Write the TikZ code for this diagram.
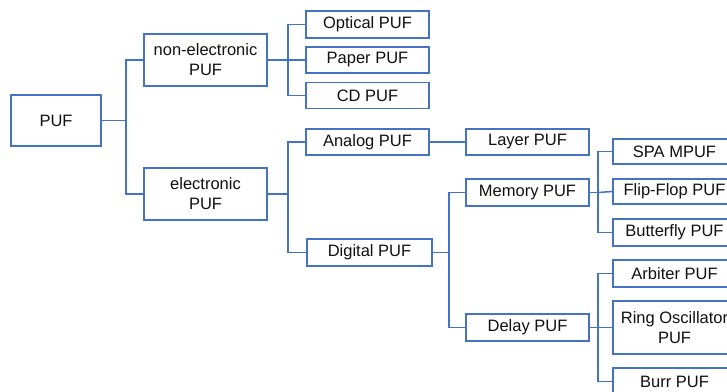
\documentclass[tikz,border=0pt]{standalone}
\usepackage{fontspec}
\setmainfont{Liberation Sans}
\definecolor{lineblue}{RGB}{68,114,196}
\definecolor{txt}{RGB}{17,17,17}
\tikzset{
  box/.style={draw=lineblue, line width=1.5pt, fill=white, inner sep=0pt, align=center,
    text=txt, font=\fontsize{16.5}{20}\selectfont, minimum width=123pt},
  conn/.style={draw=lineblue, line width=1.5pt}
}
\begin{document}
\begin{tikzpicture}[x=1pt,y=-1pt]
\useasboundingbox (0,0) rectangle (727,391);
\clip (0,0) rectangle (727,391);
\fill[white] (0,0) rectangle (727,391);
% nodes
\node[box, minimum width=90pt, minimum height=51pt] (puf) at (56,120.5) {PUF};
\node[box, minimum height=52pt] (nonel) at (205.5,60) {non-electronic\\PUF};
\node[box, minimum height=52pt] (el) at (205.5,194) {electronic\\PUF};
\node[box, minimum height=27pt] (opt) at (367.5,24.5) {Optical PUF};
\node[box, minimum height=26pt] (paper) at (367.5,60) {Paper PUF};
\node[box, minimum height=26pt] (cd) at (367.5,95.5) {CD PUF};
\node[box, minimum height=26pt] (analog) at (367.5,142) {Analog PUF};
\node[box, minimum width=125pt, minimum height=27pt] (digital) at (369.5,252.5) {Digital PUF};
\node[box, minimum height=26pt] (layer) at (527.5,142) {Layer PUF};
\node[box, minimum height=27pt] (memory) at (527.5,192.5) {Memory PUF};
\node[box, minimum height=27pt] (delay) at (527.5,327.5) {Delay PUF};
\node[box, minimum height=25pt] (spa) at (674.5,151.5) {SPA MPUF};
\node[box, minimum height=25pt] (flip) at (674.5,191.5) {Flip-Flop PUF};
\node[box, minimum height=27pt] (butter) at (674.5,232.5) {Butterfly PUF};
\node[box, minimum height=27pt] (arb) at (674.5,273.5) {Arbiter PUF};
\node[box, minimum height=53pt] (ring) at (674.5,327.5) {Ring Oscillator\\PUF};
\node[box, minimum height=27pt] (burr) at (674.5,381.5) {Burr PUF};
% junctions
\coordinate (j1) at (126,120.5);
\coordinate (j2) at (288,60);
\coordinate (j3) at (288,194);
\coordinate (j4) at (449,252.5);
\coordinate (j5) at (598,192.5);
\coordinate (j6) at (598,327.5);
% connectors
\draw[conn] (puf.east) -- (j1);
\draw[conn] (nonel.west) -| (j1) |- (el.west);
\draw[conn] (nonel.east) -- (j2);
\draw[conn] (opt.west) -| (j2) |- (cd.west);
\draw[conn] (j2) -- (paper.west);
\draw[conn] (el.east) -- (j3);
\draw[conn] (analog.west) -| (j3) |- (digital.west);
\draw[conn] (analog.east) -- (layer.west);
\draw[conn] (digital.east) -- (j4);
\draw[conn] (memory.west) -| (j4) |- (delay.west);
\draw[conn] (memory.east) -- (j5);
\draw[conn] (spa.west) -| (j5) |- (butter.west);
\draw[conn] (j5) -- (flip.west);
\draw[conn] (delay.east) -- (j6);
\draw[conn] (arb.west) -| (j6) |- (burr.west);
\draw[conn] (j6) -- (ring.west);
\end{tikzpicture}
\end{document}
